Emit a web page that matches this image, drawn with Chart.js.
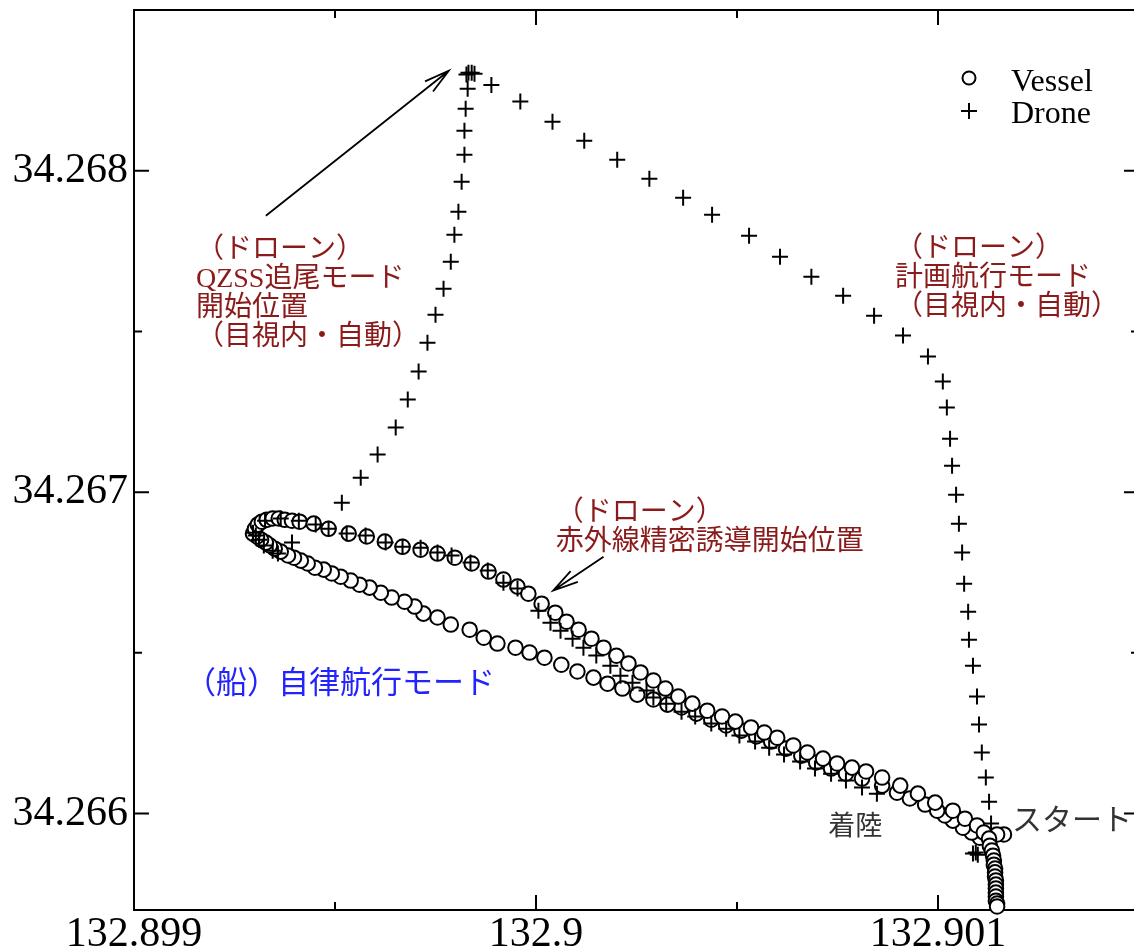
<!DOCTYPE html>
<html><head><meta charset="utf-8">
<script src="https://cdn.jsdelivr.net/npm/chart.js@4/dist/chart.umd.min.js"></script>
<style>
html,body{margin:0;padding:0;background:#fff;overflow:hidden}
#wrap{width:1134px;height:950px;overflow:hidden;position:relative;background:#fff}
#c{position:absolute;left:0;top:0}
</style></head><body>
<div id="wrap"><canvas id="c" width="1160" height="1000"></canvas></div>
<script>
// ---- data (longitude / latitude) ----
const seriesNames = ['Vessel', 'Drone'];

const vesselLon = [
132.901164,132.901147,132.901104,132.901084,132.901062,132.901037,132.901017,132.900998,132.900968,132.900930,
132.900898,132.900861,132.900811,132.900771,132.900734,132.900697,132.900660,132.900622,132.900585,132.900548,
132.900511,132.900473,132.900436,132.900399,132.900362,132.900327,132.900292,132.900252,132.900215,132.900178,
132.900143,132.900103,132.900063,132.900021,132.899984,132.899949,132.899904,132.899870,132.899835,132.899788,
132.899755,132.899720,132.899698,132.899673,132.899641,132.899614,132.899586,132.899561,132.899539,132.899514,
132.899492,132.899472,132.899450,132.899432,132.899415,132.899398,132.899383,132.899365,132.899350,132.899338,
132.899328,132.899316,132.899306,132.899296,132.899301,132.899308,132.899318,132.899330,132.899345,132.899360,
132.899375,132.899393,132.899412,132.899447,132.899484,132.899534,132.899579,132.899624,132.899668,132.899713,
132.899755,132.899798,132.899840,132.899882,132.899919,132.899954,132.899981,132.900014,132.900048,132.900076,
132.900106,132.900138,132.900168,132.900200,132.900230,132.900260,132.900292,132.900322,132.900354,132.900389,
132.900426,132.900463,132.900496,132.900535,132.900568,132.900600,132.900640,132.900675,132.900714,132.900749,
132.900786,132.900821,132.900861,132.900906,132.900950,132.900993,132.901037,132.901067,132.901097,132.901114,
132.901127,132.901129,132.901134,132.901137,132.901139,132.901139,132.901142,132.901142,132.901142,132.901144,
132.901144,132.901144,132.901144,132.901144,132.901144,132.901147,132.901147
];
const vesselLat = [
34.265935,34.265935,34.265925,34.265941,34.265956,34.265978,34.265994,34.266009,34.266028,34.266047,
34.266065,34.266087,34.266109,34.266124,34.266140,34.266159,34.266180,34.266202,34.266224,34.266240,
34.266258,34.266274,34.266292,34.266311,34.266330,34.266339,34.266355,34.266370,34.266389,34.266404,
34.266423,34.266442,34.266463,34.266485,34.266501,34.266516,34.266529,34.266547,34.266572,34.266588,
34.266610,34.266622,34.266644,34.266659,34.266672,34.266687,34.266703,34.266712,34.266725,34.266737,
34.266747,34.266759,34.266765,34.266778,34.266787,34.266796,34.266803,34.266815,34.266824,34.266834,
34.266843,34.266852,34.266862,34.266871,34.266886,34.266899,34.266908,34.266914,34.266918,34.266918,
34.266914,34.266911,34.266908,34.266902,34.266886,34.266871,34.266862,34.266846,34.266830,34.266821,
34.266809,34.266796,34.266778,34.266753,34.266728,34.266706,34.266684,34.266653,34.266625,34.266597,
34.266572,34.266544,34.266516,34.266491,34.266467,34.266439,34.266414,34.266389,34.266364,34.266342,
34.266320,34.266302,34.266286,34.266268,34.266252,34.266236,34.266212,34.266190,34.266171,34.266156,
34.266143,34.266131,34.266112,34.266087,34.266062,34.266034,34.266009,34.265984,34.265963,34.265941,
34.265922,34.265900,34.265885,34.265869,34.265854,34.265841,34.265829,34.265817,34.265804,34.265792,
34.265779,34.265767,34.265754,34.265742,34.265729,34.265720,34.265711
];

const droneLon = [
132.901132,132.901127,132.901119,132.901109,132.901102,132.901097,132.901087,132.901077,132.901075,132.901065,
132.901060,132.901052,132.901045,132.901035,132.901030,132.901022,132.901012,132.900975,132.900913,132.900841,
132.900764,132.900685,132.900607,132.900530,132.900438,132.900366,132.900282,132.900202,132.900120,132.900041,
132.899961,132.899889,132.899847,132.899840,132.899832,132.899827,132.899830,132.899825,132.899822,132.899822,
132.899815,132.899807,132.899797,132.899788,132.899770,132.899750,132.899730,132.899708,132.899681,132.899651,
132.899606,132.899564,132.899517,132.899393,132.899296,132.899303,132.899311,132.899323,132.899345,132.899358,
132.899326,132.899365,132.899410,132.899452,132.899484,132.899529,132.899576,132.899626,132.899668,132.899713,
132.899755,132.899790,132.899837,132.899880,132.899919,132.899954,132.900006,132.900036,132.900061,132.900091,
132.900118,132.900150,132.900185,132.900210,132.900240,132.900275,132.900292,132.900324,132.900362,132.900396,
132.900436,132.900473,132.900506,132.900545,132.900580,132.900617,132.900657,132.900694,132.900734,132.900771,
132.900811,132.900848,132.901087,132.901094,132.901099
];
const droneLat = [
34.265969,34.266037,34.266112,34.266190,34.266277,34.266364,34.266460,34.266541,34.266628,34.266715,
34.266812,34.266902,34.266992,34.267082,34.267166,34.267263,34.267344,34.267422,34.267487,34.267549,
34.267611,34.267670,34.267732,34.267798,34.267863,34.267916,34.267975,34.268034,34.268093,34.268152,
34.268215,34.268267,34.268302,34.268305,34.268305,34.268299,34.268255,34.268193,34.268124,34.268050,
34.267966,34.267872,34.267801,34.267717,34.267633,34.267552,34.267465,34.267375,34.267288,34.267201,
34.267117,34.267045,34.266967,34.266843,34.266874,34.266865,34.266852,34.266834,34.266818,34.266809,
34.266911,34.266918,34.266911,34.266899,34.266886,34.266871,34.266865,34.266843,34.266830,34.266827,
34.266812,34.266803,34.266781,34.266756,34.266718,34.266700,34.266631,34.266594,34.266569,34.266544,
34.266516,34.266492,34.266460,34.266429,34.266407,34.266383,34.266361,34.266342,34.266317,34.266302,
34.266280,34.266264,34.266243,34.266224,34.266205,34.266184,34.266162,34.266140,34.266124,34.266103,
34.266081,34.266062,34.265876,34.265879,34.265872
];

const xTickValues = [132.899, 132.8995, 132.9, 132.9005, 132.901, 132.9015];
const xTickLabels = ['132.899', '', '132.9', '', '132.901', ''];
const yTickValues = [34.266, 34.2665, 34.267, 34.2675, 34.268];
const yTickLabels = ['34.266', '', '34.267', '', '34.268'];

// annotation anchors (data coordinates)
const arrowStarts = [[132.899328, 34.267860], [132.900168, 34.266799]];
const arrowEnds   = [[132.899783, 34.268311], [132.900043, 34.266694]];
const noteAnchors = [
  [132.899154, 34.267761], [132.900893, 34.267764], [132.900049, 34.266943],
  [132.899127, 34.266411], [132.900727, 34.265966], [132.901184, 34.265984]
];
const noteLines = [
  ['（ドローン）', 'QZSS追尾モード', '開始位置', '（目視内・自動）'],
  ['（ドローン）', '計画航行モード', '（目視内・自動）'],
  ['（ドローン）', '赤外線精密誘導開始位置'],
  ['（船）自律航行モード'],
  ['着陸'],
  ['スタート']
];
const noteColors = ['#8b1a1a', '#8b1a1a', '#8b1a1a', '#2323ff', '#333333', '#333333'];
const noteSizes = [28, 28, 28, 31, 27, 30];

const toPoints = (xs, ys) => xs.map((x, i) => ({x: x, y: ys[i]}));
const SERIF = '"Liberation Serif", "Times New Roman", serif';
const MIX = '"Liberation Serif", "Noto Sans CJK JP", sans-serif';

const frameTicks = {
  id: 'frameTicks',
  beforeDatasetsDraw(chart) {
    const ctx = chart.ctx, a = chart.chartArea, xs = chart.scales.x, ys = chart.scales.y;
    ctx.save();
    ctx.strokeStyle = '#000';
    ctx.lineWidth = 2;
    ctx.strokeRect(a.left, a.top, a.right - a.left, a.bottom - a.top);
    ctx.beginPath();
    xTickValues.forEach((v, i) => {
      const p = xs.getPixelForValue(v), L = xTickLabels[i] ? 15 : 8;
      ctx.moveTo(p, a.bottom); ctx.lineTo(p, a.bottom - L);
      ctx.moveTo(p, a.top); ctx.lineTo(p, a.top + L);
    });
    yTickValues.forEach((v, i) => {
      const p = ys.getPixelForValue(v), L = yTickLabels[i] ? 15 : 8;
      ctx.moveTo(a.left, p); ctx.lineTo(a.left + L, p);
      ctx.moveTo(a.right, p); ctx.lineTo(a.right - L, p);
    });
    ctx.stroke();
    ctx.restore();
  }
};

const notes = {
  id: 'notes',
  afterDatasetsDraw(chart) {
    const ctx = chart.ctx, a = chart.chartArea, xs = chart.scales.x, ys = chart.scales.y;
    ctx.save();
    // arrows
    ctx.strokeStyle = '#000';
    ctx.lineWidth = 1.8;
    arrowStarts.forEach((s, i) => {
      const x0 = xs.getPixelForValue(s[0]), y0 = ys.getPixelForValue(s[1]);
      const x1 = xs.getPixelForValue(arrowEnds[i][0]), y1 = ys.getPixelForValue(arrowEnds[i][1]);
      const ang = Math.atan2(y0 - y1, x0 - x1), hl = 26, ha = 0.25;
      ctx.beginPath();
      ctx.moveTo(x0, y0); ctx.lineTo(x1, y1);
      ctx.moveTo(x1 + hl * Math.cos(ang + ha), y1 + hl * Math.sin(ang + ha));
      ctx.lineTo(x1, y1);
      ctx.lineTo(x1 + hl * Math.cos(ang - ha), y1 + hl * Math.sin(ang - ha));
      ctx.stroke();
    });
    // text notes
    ctx.textAlign = 'left';
    ctx.textBaseline = 'middle';
    noteAnchors.forEach((p, i) => {
      const x = xs.getPixelForValue(p[0]), y = ys.getPixelForValue(p[1]) + 3;
      ctx.fillStyle = noteColors[i];
      ctx.font = noteSizes[i] + 'px ' + MIX;
      noteLines[i].forEach((t, k) => ctx.fillText(t, x, y + k * 29));
    });
    // legend
    const lx = a.right - 170, tx = a.right - 128;
    const dsV = chart.data.datasets[1], dsD = chart.data.datasets[0];
    ctx.lineWidth = 2;
    ctx.strokeStyle = dsV.borderColor;
    ctx.fillStyle = '#fff';
    ctx.beginPath(); ctx.arc(lx, a.top + 68, 6.5, 0, Math.PI * 2); ctx.fill(); ctx.stroke();
    ctx.strokeStyle = dsD.borderColor;
    ctx.beginPath();
    ctx.moveTo(lx - 8, a.top + 101); ctx.lineTo(lx + 8, a.top + 101);
    ctx.moveTo(lx, a.top + 93); ctx.lineTo(lx, a.top + 109);
    ctx.stroke();
    ctx.fillStyle = '#000';
    ctx.font = '32px ' + SERIF;
    ctx.textBaseline = 'alphabetic';
    ctx.fillText(seriesNames[0], tx, a.top + 81);
    ctx.fillText(seriesNames[1], tx, a.top + 113);
    ctx.restore();
  }
};

new Chart(document.getElementById('c'), {
  type: 'scatter',
  data: {
    datasets: [
      { label: seriesNames[1], data: toPoints(droneLon, droneLat), pointStyle: 'cross',
        pointRadius: 8, pointHoverRadius: 8, borderColor: '#000', backgroundColor: '#000',
        borderWidth: 2, pointBorderWidth: 2, showLine: false, order: 0, clip: false },
      { label: seriesNames[0], data: toPoints(vesselLon, vesselLat), pointStyle: 'circle',
        pointRadius: 7.3, pointHoverRadius: 7.3, borderColor: '#000', backgroundColor: '#fff',
        borderWidth: 2, pointBorderWidth: 2, showLine: false, order: 1, clip: false }
    ]
  },
  options: {
    responsive: false,
    animation: false,
    events: [],
    layout: { padding: { top: 10, right: 21, left: 0, bottom: 0 } },
    plugins: { legend: { display: false }, tooltip: { enabled: false } },
    scales: {
      x: {
        type: 'linear', position: 'bottom', min: 132.899, max: 132.9015,
        afterBuildTicks: s => { s.ticks = xTickValues.map(v => ({ value: v })); },
        afterFit: s => { s.height = 90; s.paddingLeft = 0; s.paddingRight = 0; },
        grid: { display: false, drawTicks: false },
        border: { display: false },
        ticks: { autoSkip: false, maxRotation: 0, minRotation: 0, padding: 0, color: '#000',
          font: { family: SERIF, size: 42 }, callback: (v, i) => xTickLabels[i] || '' }
      },
      y: {
        type: 'linear', position: 'left', min: 34.2657, max: 34.2685,
        afterBuildTicks: s => { s.ticks = yTickValues.map(v => ({ value: v })); },
        afterFit: s => { s.width = 134; s.paddingTop = 0; s.paddingBottom = 0; },
        grid: { display: false, drawTicks: false },
        border: { display: false },
        ticks: { autoSkip: false, padding: 6, color: '#000',
          font: { family: SERIF, size: 42 }, callback: (v, i) => yTickLabels[i] || '' }
      }
    }
  },
  plugins: [frameTicks, notes]
});
</script>
</body></html>
